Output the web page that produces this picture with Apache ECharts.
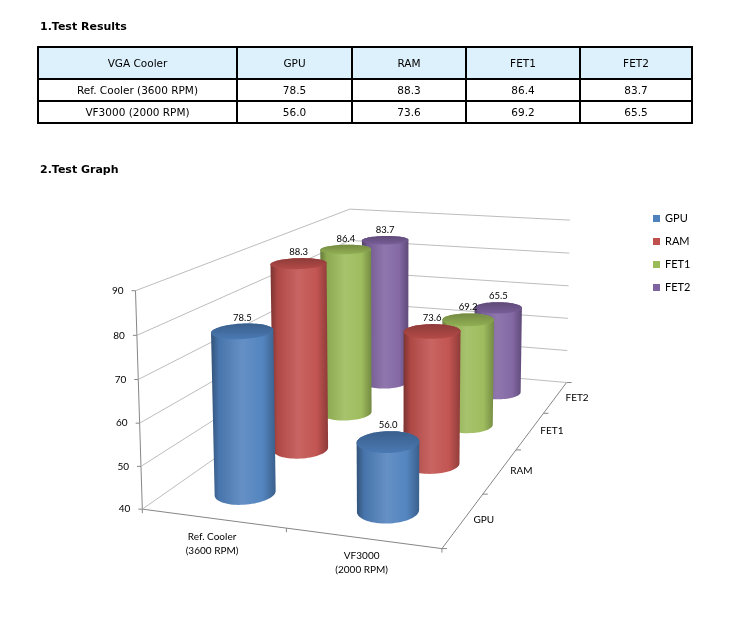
<!DOCTYPE html>
<html>
<head>
<meta charset="utf-8">
<script src="https://cdn.jsdelivr.net/npm/echarts@6/dist/echarts.min.js"></script>
<style>
html, body { margin: 0; padding: 0; background: #fff; }
#main { width: 730px; height: 634px; }
</style>
</head>
<body>
<div id="main"></div>
<script>
var coolers = ['Ref. Cooler (3600 RPM)', 'VF3000 (2000 RPM)'];
var coolerLabels = ['Ref. Cooler\n(3600 RPM)', 'VF3000\n(2000 RPM)'];
var parts = ['GPU', 'RAM', 'FET1', 'FET2'];
var refCooler = [78.5, 88.3, 86.4, 83.7];
var vf3000 = [56.0, 73.6, 69.2, 65.5];
var valueTicks = [40, 50, 60, 70, 80, 90];
var partColors = ['#4f81bd', '#c0504d', '#9bbb59', '#8064a2'];

var vMin = 40, vMax = 90;
var tableFont = '10.5px "DejaVu Sans", sans-serif';
var chartFont = '"Lato", "Liberation Sans", sans-serif';

// box corners seen in the picture: [across, depth, height] -> [px, py]
var frame = [
    [0, 0, 0, 142.5, 509], [0, 0, 0.2, 141, 466], [0, 0, 0.4, 139.5, 422.5],
    [0, 0, 0.6, 138, 380], [0, 0, 0.8, 137, 335.5], [0, 0, 1, 135.5, 291],
    [0.5, 0, 0, 286, 529], [1, 0, 0, 443, 549],
    [1, 0.25, 0, 483, 493], [1, 0.5, 0, 515, 450], [1, 0.75, 0, 543, 413], [1, 1, 0, 567, 383],
    [1, 1, 0.2, 567.5, 351], [1, 1, 0.4, 568, 318], [1, 1, 0.6, 568.5, 286],
    [1, 1, 0.8, 569, 253], [1, 1, 1, 570, 220],
    [0, 1, 1, 350, 209]
];

// least squares camera (DLT) so the box gets a real perspective
function calibrate(pts) {
    var n = 11, M = [], r = [], i, j, k;
    for (i = 0; i < n; i++) { M.push([]); r.push(0); for (j = 0; j < n; j++) M[i].push(0); }
    pts.forEach(function (p) {
        var X = p[0], Y = p[1], Z = p[2], u = (p[3] - 350) / 200, v = (p[4] - 400) / 200;
        [[X, Y, Z, 1, 0, 0, 0, 0, -u * X, -u * Y, -u * Z, u],
         [0, 0, 0, 0, X, Y, Z, 1, -v * X, -v * Y, -v * Z, v]].forEach(function (a) {
            for (var i = 0; i < n; i++) {
                for (var j = 0; j < n; j++) M[i][j] += a[i] * a[j];
                r[i] += a[i] * a[n];
            }
        });
    });
    for (var c = 0; c < n; c++) {
        var piv = c;
        for (k = c + 1; k < n; k++) if (Math.abs(M[k][c]) > Math.abs(M[piv][c])) piv = k;
        var t = M[c]; M[c] = M[piv]; M[piv] = t;
        t = r[c]; r[c] = r[piv]; r[piv] = t;
        for (k = c + 1; k < n; k++) {
            var f = M[k][c] / M[c][c];
            for (j = c; j < n; j++) M[k][j] -= f * M[c][j];
            r[k] -= f * r[c];
        }
    }
    var p = [];
    for (i = n - 1; i >= 0; i--) {
        var s = r[i];
        for (j = i + 1; j < n; j++) s -= M[i][j] * p[j];
        p[i] = s / M[i][i];
    }
    return p;
}
var cam = calibrate(frame);

function project(x, y, z) {
    var w = cam[8] * x + cam[9] * y + cam[10] * z + 1;
    var u = (cam[0] * x + cam[1] * y + cam[2] * z + cam[3]) / w;
    var v = (cam[4] * x + cam[5] * y + cam[6] * z + cam[7]) / w;
    return [u * 200 + 350, v * 200 + 400];
}

function hull(pts) {
    pts = pts.slice().sort(function (a, b) { return a[0] - b[0] || a[1] - b[1]; });
    function cross(o, a, b) { return (a[0] - o[0]) * (b[1] - o[1]) - (a[1] - o[1]) * (b[0] - o[0]); }
    var lower = [], upper = [], i;
    for (i = 0; i < pts.length; i++) {
        while (lower.length >= 2 && cross(lower[lower.length - 2], lower[lower.length - 1], pts[i]) <= 0) lower.pop();
        lower.push(pts[i]);
    }
    for (i = pts.length - 1; i >= 0; i--) {
        while (upper.length >= 2 && cross(upper[upper.length - 2], upper[upper.length - 1], pts[i]) <= 0) upper.pop();
        upper.push(pts[i]);
    }
    upper.pop(); lower.pop();
    return lower.concat(upper);
}

function shade(hex, f) {
    var n = parseInt(hex.slice(1), 16), c = [n >> 16, (n >> 8) & 255, n & 255];
    return 'rgb(' + c.map(function (v) {
        return Math.round(f < 0 ? v * (1 + f) : v + (255 - v) * f);
    }).join(',') + ')';
}

var CX = [0.25, 0.75], RX = 0.098, RY = 0.058;

function cylinder(partIdx) {
    var base = partColors[partIdx];
    return function (params, api) {
        var cat = api.value(0), val = api.value(1);
        var cx = CX[cat], cy = 0.125 + 0.25 * partIdx, cz = (val - vMin) / (vMax - vMin);
        var bot = [], top = [];
        for (var i = 0; i < 72; i++) {
            var a = i / 72 * Math.PI * 2;
            var x = cx + RX * Math.cos(a), y = cy + RY * Math.sin(a);
            bot.push(project(x, y, 0));
            top.push(project(x, y, cz));
        }
        var topY = Math.min.apply(null, top.map(function (p) { return p[1]; }));
        var c = project(cx, cy, cz);
        return {
            type: 'group',
            children: [{
                type: 'polygon',
                shape: { points: hull(bot.concat(top)) },
                style: {
                    fill: new echarts.graphic.LinearGradient(0, 0, 1, 0, [
                        { offset: 0, color: shade(base, -0.36) },
                        { offset: 0.12, color: shade(base, -0.1) },
                        { offset: 0.48, color: shade(base, 0.12) },
                        { offset: 0.8, color: shade(base, 0.03) },
                        { offset: 1, color: shade(base, -0.26) }
                    ])
                }
            }, {
                type: 'polygon',
                shape: { points: top },
                style: {
                    fill: new echarts.graphic.LinearGradient(0, 0, 0, 1, [
                        { offset: 0, color: shade(base, -0.26) },
                        { offset: 1, color: shade(base, -0.06) }
                    ])
                }
            }, {
                type: 'text',
                x: c[0], y: topY - 1,
                style: {
                    text: val.toFixed(1), fill: '#000', font: '9.5px ' + chartFont,
                    align: 'center', verticalAlign: 'bottom',
                    textAlign: 'center', textVerticalAlign: 'bottom'
                }
            }]
        };
    };
}

// table and titles
var graphics = [];
function addText(txt, x, y, font, align) {
    graphics.push({
        type: 'text', x: x, y: y, silent: true,
        style: { text: txt, font: font, fill: '#000', align: align || 'center', verticalAlign: 'middle',
                 textAlign: align || 'center', textVerticalAlign: 'middle' }
    });
}
function addLine(x1, y1, x2, y2, color, w) {
    graphics.push({ type: 'line', silent: true, shape: { x1: x1, y1: y1, x2: x2, y2: y2 },
                    style: { stroke: color, lineWidth: w } });
}
addText('1.Test Results', 40, 27, 'bold 11px "DejaVu Sans", sans-serif', 'left');
addText('2.Test Graph', 40, 170, 'bold 11px "DejaVu Sans", sans-serif', 'left');

var colX = [38, 237, 352, 466, 580, 692];
var rowY = [47, 79, 101, 123];
graphics.push({ type: 'rect', silent: true, shape: { x: colX[0], y: rowY[0], width: colX[5] - colX[0], height: rowY[1] - rowY[0] },
                style: { fill: '#ddf1fc' } });
var tableRows = [['VGA Cooler'].concat(parts)];
coolers.forEach(function (name, i) {
    var vals = i === 0 ? refCooler : vf3000;
    tableRows.push([name].concat(vals.map(function (v) { return v.toFixed(1); })));
});
tableRows.forEach(function (row, r) {
    row.forEach(function (cell, c) {
        addText(cell, (colX[c] + colX[c + 1]) / 2, (rowY[r] + rowY[r + 1]) / 2 + 1, tableFont);
    });
});
rowY.forEach(function (y) { addLine(colX[0] - 1, y, colX[5] + 1, y, '#000', 2); });
colX.forEach(function (x) { addLine(x, rowY[0], x, rowY[3], '#000', 2); });

// box axes
var axisColor = '#868686';
function addSeg3(a, b) {
    var p = project(a[0], a[1], a[2]), q = project(b[0], b[1], b[2]);
    addLine(p[0], p[1], q[0], q[1], axisColor, 1);
}
addSeg3([0, 0, 0], [0, 0, 1]);
addSeg3([0, 0, 0], [1, 0, 0]);
addSeg3([1, 0, 0], [1, 1, 0]);
[0, 0.5, 1].forEach(function (x) {
    var p = project(x, 0, 0);
    addLine(p[0], p[1], p[0], p[1] + 4, axisColor, 1);
});
[0, 0.25, 0.5, 0.75, 1].forEach(function (y) {
    var p = project(1, y, 0);
    addLine(p[0], p[1], p[0] + 5, p[1], axisColor, 1);
});

var series = [{
    type: 'custom',
    name: 'walls',
    coordinateSystem: 'none',
    silent: true,
    data: valueTicks.map(function (v) { return [v]; }),
    renderItem: function (params, api) {
        var v = api.value(0), z = (v - vMin) / (vMax - vMin);
        var a = project(0, 0, z), b = project(0, 1, z), c = project(1, 1, z);
        return {
            type: 'group',
            children: [{
                type: 'polyline', shape: { points: [a, b, c] },
                style: { stroke: '#bdbdbd', lineWidth: 1, fill: null }
            }, {
                type: 'line', shape: { x1: a[0] - 4, y1: a[1], x2: a[0], y2: a[1] },
                style: { stroke: axisColor, lineWidth: 1 }
            }, {
                type: 'text', x: a[0] - 12, y: a[1],
                style: { text: String(v), fill: '#000', font: '10px ' + chartFont,
                         align: 'right', verticalAlign: 'middle', textAlign: 'right', textVerticalAlign: 'middle' }
            }]
        };
    }
}, {
    type: 'custom',
    name: 'coolers',
    coordinateSystem: 'none',
    silent: true,
    data: coolerLabels.map(function (s, i) { return [i]; }),
    renderItem: function (params, api) {
        var i = api.value(0), p = project(0.25 + 0.5 * i, 0, 0);
        return {
            type: 'text', x: p[0] - 1, y: p[1] + 11,
            style: { text: coolerLabels[i], fill: '#000', font: '10px ' + chartFont, lineHeight: 14,
                     align: 'center', verticalAlign: 'top', textAlign: 'center', textVerticalAlign: 'top' }
        };
    }
}, {
    type: 'custom',
    name: 'parts',
    coordinateSystem: 'none',
    silent: true,
    data: parts.map(function (s, i) { return [i]; }),
    renderItem: function (params, api) {
        var i = api.value(0), p = project(1, 0.125 + 0.25 * i, 0);
        return {
            type: 'text', x: p[0] + 10, y: p[1],
            style: { text: parts[i], fill: '#000', font: '10px ' + chartFont,
                     align: 'left', verticalAlign: 'middle', textAlign: 'left', textVerticalAlign: 'middle' }
        };
    }
}];

// back row first so nearer cylinders cover farther ones
for (var k = parts.length - 1; k >= 0; k--) {
    series.push({
        type: 'custom',
        name: parts[k],
        coordinateSystem: 'none',
        itemStyle: { color: partColors[k] },
        data: [[0, refCooler[k]], [1, vf3000[k]]],
        renderItem: cylinder(k)
    });
}

var chart = echarts.init(document.getElementById('main'));
chart.setOption({
    animation: false,
    backgroundColor: '#fff',
    legend: {
        data: parts,
        orient: 'vertical',
        left: 648,
        top: 208,
        icon: 'rect',
        itemWidth: 7,
        itemHeight: 7,
        itemGap: 12,
        selectedMode: false,
        textStyle: { fontFamily: chartFont, fontSize: 11, color: '#000' }
    },
    graphic: { elements: graphics },
    series: series
});
</script>
</body>
</html>
